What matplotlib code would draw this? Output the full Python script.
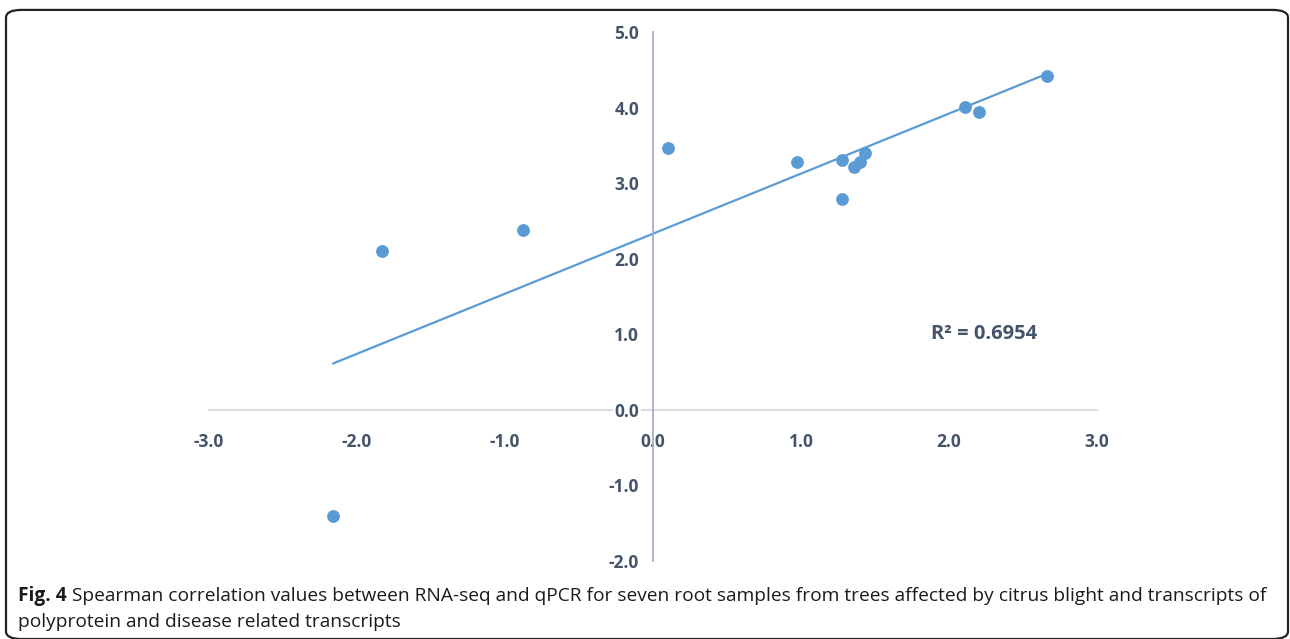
import numpy as np
import matplotlib.pyplot as plt
from matplotlib.patches import FancyBboxPatch

# values
rnaseq = [-2.16, -1.83, -0.88, 0.10, 0.97, 1.28, 1.28, 1.36, 1.40, 1.43, 2.11, 2.20, 2.66]
qpcr = [-1.40, 2.10, 2.38, 3.47, 3.28, 3.31, 2.79, 3.21, 3.28, 3.40, 4.01, 3.94, 4.42]
xticks = [-3.0, -2.0, -1.0, 0.0, 1.0, 2.0, 3.0]
yticks = [-2.0, -1.0, 0.0, 1.0, 2.0, 3.0, 4.0, 5.0]
r2_text = "R² = 0.6954"
caption_bold = "Fig. 4"
caption_1 = (" Spearman correlation values between RNA-seq and qPCR for seven root samples "
             "from trees affected by citrus blight and transcripts of")
caption_2 = "polyprotein and disease related transcripts"

W, H = 1290, 639
fig = plt.figure(figsize=(W / 100, H / 100), dpi=100)

# rounded frame round the figure
frame = FancyBboxPatch((6 / W, 0.0), (W - 8) / W, (H - 8) / H - 0.003,
                       boxstyle="round,pad=0,rounding_size=0.012",
                       transform=fig.transFigure, fill=False,
                       edgecolor="#222222", linewidth=1.6, clip_on=False)
fig.patches.append(frame)

ax = fig.add_axes([209 / W, 1 - 561 / H, 888 / W, 529 / H])
ax.set_xlim(-3, 3)
ax.set_ylim(-2, 5)

x = np.array(rnaseq)
y = np.array(qpcr)
ax.scatter(x, y, s=85, color="#5b9bd5", zorder=3, linewidths=0)

k, b = np.polyfit(x, y, 1)
xs = np.array([x.min(), x.max()])
ax.plot(xs, k * xs + b, color="#5b9bd5", lw=1.6, zorder=2)

ax.spines["left"].set_position(("data", 0))
ax.spines["bottom"].set_position(("data", 0))
ax.spines["right"].set_visible(False)
ax.spines["top"].set_visible(False)
ax.spines["left"].set_color("#a9a9cc")
ax.spines["bottom"].set_color("#d9d9d9")
ax.spines["left"].set_linewidth(1.3)
ax.spines["bottom"].set_linewidth(1.3)
ax.spines["bottom"].set_zorder(1)
ax.yaxis.set_zorder(1.5)

ax.set_xticks(xticks)
ax.set_yticks(yticks)
ax.set_xticklabels([f"{v:.1f}" for v in xticks])
ax.set_yticklabels([f"{v:.1f}" for v in yticks])
ax.tick_params(length=0, labelsize=12.5, labelcolor="#44546a")
ax.tick_params(axis="x", pad=17)
ax.tick_params(axis="y", pad=10)
for lab in ax.get_xticklabels() + ax.get_yticklabels():
    lab.set_fontweight("bold")
    lab.set_fontfamily("Open Sans")
for lab in ax.get_yticklabels():
    lab.set_bbox(dict(facecolor="white", edgecolor="none", pad=1))

ax.text(1.88, 1.0, r2_text, fontsize=14.5, fontweight="bold", color="#44546a",
        family="Open Sans", va="center", ha="left")

# caption
t1 = fig.text(18 / W, 1 - 596 / H, caption_bold, fontsize=13.8, fontweight="bold",
              family="Open Sans", va="center", ha="left", color="#1a1a1a")
r = fig.canvas.get_renderer()
bb = t1.get_window_extent(renderer=r)
fig.text(bb.x1 / W, 1 - 596 / H, caption_1, fontsize=13.8, family="Open Sans",
         va="center", ha="left", color="#1a1a1a")
fig.text(18 / W, 1 - 622 / H, caption_2, fontsize=13.8, family="Open Sans",
         va="center", ha="left", color="#1a1a1a")

fig.savefig("out.png", dpi=100)
